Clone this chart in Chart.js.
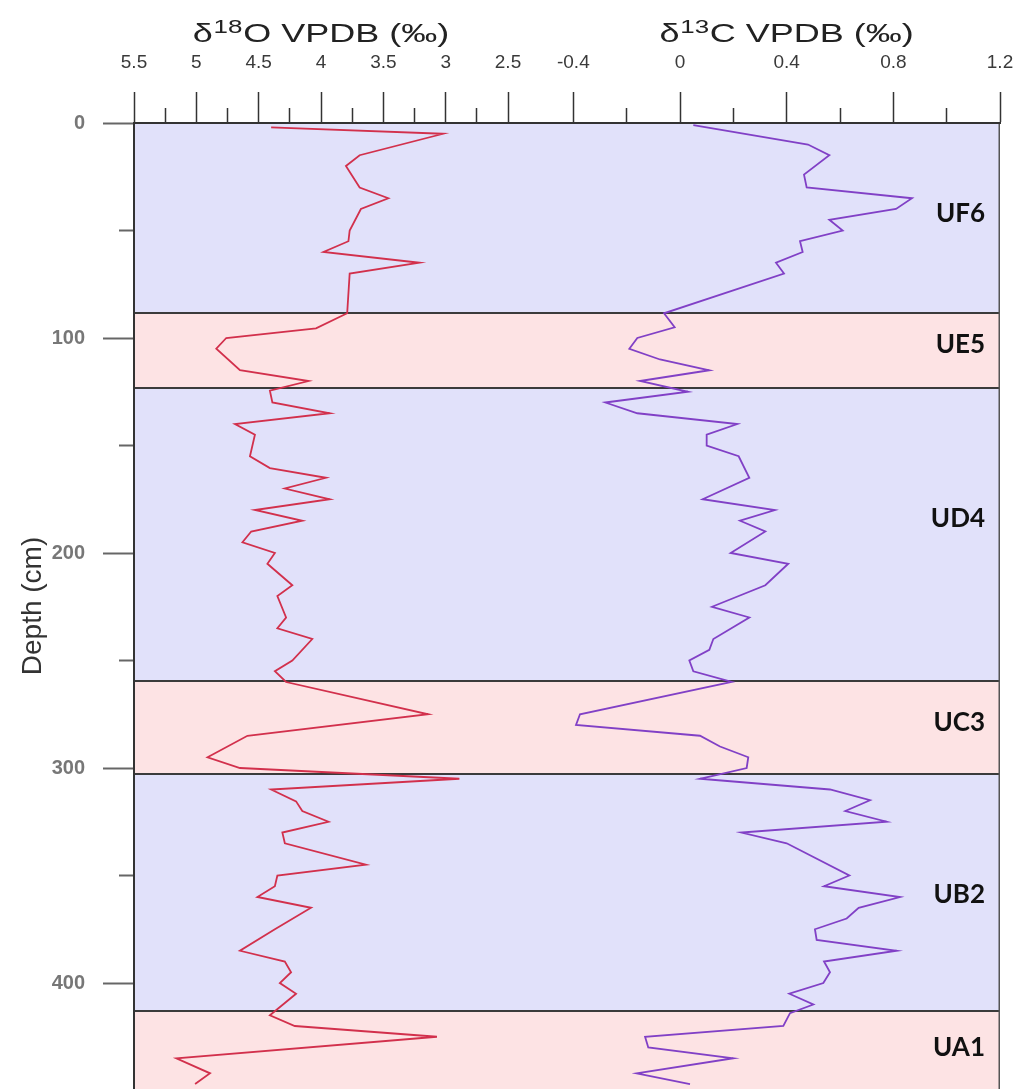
<!DOCTYPE html>
<html>
<head>
<meta charset="utf-8">
<script src="https://cdn.jsdelivr.net/npm/chart.js@4.4.1/dist/chart.umd.min.js"></script>
<style>
  html, body { margin: 0; padding: 0; background: #ffffff; overflow: hidden; }
  #wrap { width: 1018px; height: 1089px; }
</style>
</head>
<body>
<div id="wrap"><canvas id="core" width="1018" height="1089"></canvas></div>
<script>
// Stable isotope profile of the section, depth in cm
const oxygenDepth = [2, 5, 15, 20, 30, 35, 40, 50, 55, 60, 65, 70, 88.5, 95.5, 100, 105, 115, 120, 124.5, 130,
  135, 140, 145, 155, 160.5, 165, 170, 175, 180, 185, 190, 195, 200, 205, 215, 220, 230, 235, 240, 250,
  255, 260, 275, 285, 295, 300, 305, 310, 315.5, 320, 325, 330, 335, 345, 350, 355, 360, 365, 375, 385,
  390, 395, 400, 405, 415, 420, 425, 435, 442, 447];
const oxygenValues = [4.40, 3.02, 3.69, 3.80, 3.69, 3.46, 3.68, 3.77, 3.78, 3.98, 3.21, 3.77, 3.79, 4.04, 4.76, 4.84, 4.65, 4.10, 4.41, 4.39,
  3.93, 4.69, 4.53, 4.57, 4.41, 3.96, 4.29, 3.93, 4.53, 4.15, 4.56, 4.63, 4.37, 4.43, 4.23, 4.35, 4.28, 4.35, 4.07, 4.23,
  4.37, 4.28, 3.14, 4.59, 4.91, 4.65, 2.89, 4.40, 4.20, 4.15, 3.94, 4.31, 4.29, 3.64, 4.35, 4.37, 4.51, 4.08, 4.37, 4.65,
  4.29, 4.24, 4.33, 4.20, 4.41, 4.21, 3.07, 5.16, 4.89, 5.01];

const carbonDepth = [1, 10, 15, 24, 30, 35, 40, 45, 50, 55, 60, 65, 70, 88.5, 95, 100, 105, 110, 115, 120,
  125, 130, 135, 140, 145, 150, 155, 165, 175, 180, 185, 190, 200, 205, 215, 225, 230, 240, 245, 250,
  255, 260, 275, 280, 285, 290, 295, 300, 305, 310, 315, 320, 325, 330, 335, 350, 355, 360, 365, 370,
  375, 380, 385, 390, 395, 400, 405, 410, 414, 420, 425, 430, 435, 442, 447];
const carbonValues = [0.05, 0.48, 0.56, 0.465, 0.475, 0.87, 0.81, 0.56, 0.61, 0.45, 0.46, 0.36, 0.39, -0.06, -0.02, -0.16, -0.19, -0.075, 0.11, -0.15,
  0.03, -0.28, -0.16, 0.215, 0.10, 0.10, 0.22, 0.26, 0.085, 0.356, 0.225, 0.32, 0.19, 0.406, 0.32, 0.12, 0.26, 0.125, 0.11, 0.035,
  0.05, 0.194, -0.375, -0.39, 0.075, 0.15, 0.256, 0.25, 0.075, 0.5625, 0.7125, 0.62, 0.775, 0.23, 0.40, 0.635, 0.54, 0.825, 0.67, 0.625,
  0.506, 0.5125, 0.8125, 0.54, 0.5625, 0.5375, 0.41, 0.50, 0.4125, 0.3875, -0.131, -0.119, 0.20, -0.1625, 0.0375];

// Lithological units (depth limits in cm)
const zoneNames = ['UF6', 'UE5', 'UD4', 'UC3', 'UB2', 'UA1'];
const zoneTop = [0, 88.2, 123.1, 259.5, 302.9, 413];
const zoneBottom = [88.2, 123.1, 259.5, 302.9, 413, 460];
const zoneLabelDepth = [42, 103, 184, 279, 359, 430];

// Axis ranges and ticks
const depthRange = [0, 449.3];
const oxygenRange = [2.5, 5.5];
const carbonRange = [-0.645, 1.2];
const depthTickValues = [0, 50, 100, 150, 200, 250, 300, 350, 400];
const oxygenTickLabels = ['5.5', '5', '4.5', '4', '3.5', '3', '2.5'];
const carbonTickLabels = ['-0.4', '0', '0.4', '0.8', '1.2'];
const depthTickLabels = ['0', '100', '200', '300', '400'];

const SANS = '"Liberation Sans", Arial, Helvetica, sans-serif';

function labelFor(list) {
  return v => {
    const hit = list.find(s => Math.abs(Number(s) - v) < 1e-6);
    return hit === undefined ? '' : hit;
  };
}
function minorDash(list) {
  return ctx => (ctx.tick && list.some(s => Math.abs(Number(s) - ctx.tick.value) < 1e-6)) ? [] : [0, 16, 15, 200];
}
function noPadding(s) {
  s.paddingLeft = 0;
  s.paddingRight = 0;
  s.paddingTop = 0;
  s.paddingBottom = 0;
}

// Coloured unit bands with their dividing lines
const zonePlugin = {
  id: 'zones',
  beforeDraw(chart) {
    const { ctx, chartArea: a, scales: { y } } = chart;
    ctx.save();
    zoneNames.forEach((name, i) => {
      const t = y.getPixelForValue(zoneTop[i]);
      const b = Math.min(y.getPixelForValue(zoneBottom[i]), a.bottom);
      ctx.fillStyle = i % 2 === 0 ? '#e1e1fa' : '#fde3e4';
      ctx.fillRect(a.left, t, a.right - a.left, b - t);
    });
    ctx.strokeStyle = '#3b3b3b';
    ctx.lineWidth = 2;
    zoneTop.slice(1).forEach(d => {
      const p = Math.round(y.getPixelForValue(d));
      ctx.beginPath();
      ctx.moveTo(a.left, p);
      ctx.lineTo(a.right, p);
      ctx.stroke();
    });
    ctx.strokeStyle = '#555555';
    ctx.lineWidth = 1.5;
    ctx.beginPath();
    ctx.moveTo(a.right - 0.75, a.top);
    ctx.lineTo(a.right - 0.75, a.bottom);
    ctx.stroke();
    ctx.restore();
  },
  afterDatasetsDraw(chart) {
    const { ctx, chartArea: a, scales: { y } } = chart;
    ctx.save();
    ctx.fillStyle = '#111111';
    ctx.font = 'bold 26px Lato, "Open Sans", sans-serif';
    ctx.textAlign = 'right';
    ctx.textBaseline = 'middle';
    zoneNames.forEach((name, i) => {
      ctx.fillText(name, a.right - 15, y.getPixelForValue(zoneLabelDepth[i]));
    });
    ctx.restore();
  }
};

// Axis titles with superscript isotope numbers
function drawIsoTitle(ctx, cx, baseY, head, sup, tail) {
  const big = '25px ' + SANS;
  const small = '18px ' + SANS;
  const stretch = 1.44;
  ctx.font = big;
  const w1 = ctx.measureText(head).width;
  const w3 = ctx.measureText(tail).width;
  ctx.font = small;
  const w2 = ctx.measureText(sup).width;
  const total = (w1 + w2 + w3 + 1) * stretch;
  ctx.save();
  ctx.translate(cx - total / 2, baseY);
  ctx.scale(stretch, 1);
  ctx.fillStyle = '#222222';
  ctx.textAlign = 'left';
  ctx.textBaseline = 'alphabetic';
  ctx.font = big;
  ctx.fillText(head, 0, 0);
  ctx.font = small;
  ctx.fillText(sup, w1 + 0.5, -9);
  ctx.font = big;
  ctx.fillText(tail, w1 + w2 + 1, 0);
  ctx.restore();
}
const titlePlugin = {
  id: 'isoTitles',
  afterDraw(chart) {
    const { ctx, scales: { xO, xC } } = chart;
    drawIsoTitle(ctx, xO.getPixelForValue(4), 42, 'δ', '18', 'O VPDB (‰)');
    drawIsoTitle(ctx, xC.getPixelForValue(0.4), 42, 'δ', '13', 'C VPDB (‰)');
  }
};

const topTicks = (labels, range, step) => ({
  type: 'linear',
  position: 'top',
  stack: 'iso',
  min: range[0],
  max: range[1],
  afterFit: s => { s.height = 71; noPadding(s); },
  ticks: {
    stepSize: step,
    autoSkip: false,
    maxRotation: 0,
    padding: 18,
    color: '#3a3a3a',
    font: { family: SANS, size: 19 },
    callback: labelFor(labels)
  },
  grid: {
    drawOnChartArea: false,
    drawTicks: true,
    tickLength: 31,
    tickColor: '#333333',
    tickWidth: 1.5,
    tickBorderDash: minorDash(labels)
  },
  border: { display: true, color: '#333333', width: 2 }
});

const xO = Object.assign(topTicks(oxygenTickLabels, oxygenRange, 0.25), { reverse: true, stackWeight: 374, weight: 1 });
const xC = Object.assign(topTicks(carbonTickLabels, carbonRange, 0.2), {
  stackWeight: 492, weight: 0,
  afterBuildTicks: s => { s.ticks = s.ticks.filter(t => t.value > -0.5); }
});

new Chart(document.getElementById('core'), {
  type: 'scatter',
  data: {
    datasets: [
      {
        label: 'δ18O',
        data: oxygenDepth.map((d, i) => ({ x: oxygenValues[i], y: d })),
        xAxisID: 'xO', yAxisID: 'y',
        showLine: true, borderColor: '#d2304c', borderWidth: 1.8,
        pointRadius: 0, pointHoverRadius: 0, tension: 0
      },
      {
        label: 'δ13C',
        data: carbonDepth.map((d, i) => ({ x: carbonValues[i], y: d })),
        xAxisID: 'xC', yAxisID: 'y',
        showLine: true, borderColor: '#8140c6', borderWidth: 1.8,
        pointRadius: 0, pointHoverRadius: 0, tension: 0
      }
    ]
  },
  options: {
    responsive: false,
    animation: false,
    devicePixelRatio: 1,
    layout: { padding: { top: 52, right: 18, bottom: 0, left: 0 } },
    plugins: { legend: { display: false }, tooltip: { enabled: false } },
    scales: {
      xO: xO,
      xC: xC,
      y: {
        type: 'linear',
        position: 'left',
        min: depthRange[0],
        max: depthRange[1],
        reverse: true,
        afterFit: s => { s.width = 134; noPadding(s); },
        afterBuildTicks: s => { s.ticks = depthTickValues.map(v => ({ value: v })); },
        ticks: {
          autoSkip: false,
          padding: 18,
          color: '#777777',
          font: { family: SANS, size: 20, weight: 'bold' },
          callback: labelFor(depthTickLabels)
        },
        grid: {
          drawOnChartArea: false,
          tickLength: 31,
          tickColor: '#666666',
          tickWidth: 2,
          tickBorderDash: minorDash(depthTickLabels)
        },
        border: { display: true, color: '#333333', width: 2 },
        title: {
          display: true,
          text: 'Depth (cm)',
          color: '#333333',
          font: { family: SANS, size: 28 },
          padding: { top: 16, bottom: 0 }
        }
      }
    }
  },
  plugins: [zonePlugin, titlePlugin]
});
</script>
</body>
</html>
